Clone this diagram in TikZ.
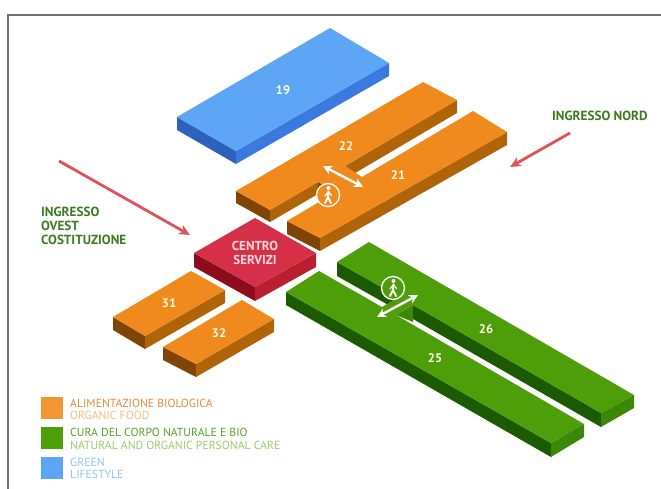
\documentclass[tikz,border=0pt]{standalone}
\usepackage{fontspec}
\setmainfont{PT Sans}
\usepackage{tikz}
\usetikzlibrary{arrows.meta, positioning}
\definecolor{orgtop}{RGB}{240,138,28}
\definecolor{orgmid}{RGB}{176,100,10}
\definecolor{orgdark}{RGB}{128,68,6}
\definecolor{grntop}{RGB}{78,158,10}
\definecolor{grnmid}{RGB}{60,136,6}
\definecolor{grndark}{RGB}{28,90,2}
\definecolor{blutop}{RGB}{92,166,245}
\definecolor{blumid}{RGB}{58,122,222}
\definecolor{bludark}{RGB}{44,98,188}
\definecolor{redtop}{RGB}{214,48,72}
\definecolor{redmid}{RGB}{184,32,48}
\definecolor{reddark}{RGB}{140,14,30}
\definecolor{entryred}{RGB}{224,82,90}
\definecolor{entrygreen}{RGB}{62,122,34}
\definecolor{legorgA}{RGB}{222,140,60}
\definecolor{legorgB}{RGB}{244,190,130}
\definecolor{leggrnA}{RGB}{92,160,44}
\definecolor{leggrnB}{RGB}{156,204,110}
\definecolor{legbluA}{RGB}{146,196,240}
\begin{document}
\begin{tikzpicture}[
  x=1pt, y=-1pt,
  num/.style={font=\fontsize{12.5}{12}\selectfont\bfseries, text=white!90!yellow, inner sep=0pt},
  entry/.style={font=\fontsize{13.2}{14}\selectfont\bfseries, text=entrygreen, align=left, inner sep=0pt},
  arr/.style={-{Stealth[length=11pt,width=10pt]}, line width=2.8pt, entryred},
  pass/.style={{Stealth[length=9pt,width=9pt]}-{Stealth[length=9pt,width=9pt]}, line width=2.4pt, white},
  ring/.style={circle, draw=white, line width=1.3pt, minimum size=23pt, inner sep=0pt},
  swatch/.style={minimum size=22pt, inner sep=0pt},
  legA/.style={font=\fontsize{11.7}{12}\selectfont, anchor=west, inner sep=0pt},
  legB/.style={font=\fontsize{11.7}{12}\selectfont, anchor=west, inner sep=0pt},
  walker/.pic={
    \fill[white] (0.5,-7) circle (2pt);
    \draw[white, line width=2pt, line cap=round] (0.5,-3.5) -- (0,2) -- (-3,8);
    \draw[white, line width=2pt, line cap=round] (0,2) -- (3,8);
    \draw[white, line width=1.2pt, line cap=round] (0.5,-3.5) -- (-3,1);
    \draw[white, line width=1.2pt, line cap=round] (0.5,-3.5) -- (3.5,0.5);
  }
]
  \useasboundingbox (0,0) rectangle (661,489);
  \fill[white] (0,0) rectangle (661,489);
  \draw[black!55, line width=1.3pt] (8,489) -- (8,15) -- (661,15);

  % block 19
  \fill[bludark] (177,117) -- (236,151) -- (236,164) -- (177,130) -- cycle;
  \fill[blumid] (236,151) -- (389,63) -- (389,76) -- (236,164) -- cycle;
  \fill[blutop] (177,117) -- (330,28) -- (389,63) -- (236,151) -- cycle;
  \node[num] (n19) at (283,90) {19};

  % blocks 22 and 21
  \fill[orgdark] (236,191) -- (270,210) -- (270,222) -- (236,203) -- cycle;
  \fill[orgmid] (270,210) -- (318,182) -- (318,194) -- (270,222) -- cycle;
  \fill[orgdark] (318,182) -- (336,192) -- (336,204) -- (318,194) -- cycle;
  \fill[orgmid] (345,166) -- (457,100) -- (457,113) -- (345,179) -- cycle;
  \fill[orgdark] (287,221) -- (320,238) -- (320,251) -- (287,234) -- cycle;
  \fill[orgmid] (320,238) -- (507,132) -- (507,145) -- (320,251) -- cycle;
  \fill[orgtop] (236,191) -- (423,82) -- (457,100) -- (345,166) -- (362,177)
    -- (473,111) -- (507,132) -- (320,238) -- (287,221) -- (336,192)
    -- (318,182) -- (270,210) -- cycle;
  \node[num] (n22) at (346,146) {22};
  \node[num] (n21) at (398,175) {21};
  \coordinate (passAa) at (323,166);
  \coordinate (passAb) at (363,187);
  \draw[pass] (passAa) -- (passAb);
  \node[ring, fill=orgtop] (walkA) at (328,195) {};
  \pic at (walkA) {walker};

  % centro servizi
  \fill[reddark] (194,253) -- (255,287) -- (255,301) -- (194,267) -- cycle;
  \fill[redmid] (255,287) -- (316,253) -- (316,267) -- (255,301) -- cycle;
  \fill[redtop] (194,253) -- (255,218) -- (316,253) -- (255,287) -- cycle;
  \node[num, align=center, font=\fontsize{13}{14}\selectfont\bfseries, text=white!85!red] (centro) at (255,253) {CENTRO\\SERVIZI};

  % blocks 31 and 32
  \fill[orgdark] (113,317) -- (145,336) -- (145,349) -- (113,330) -- cycle;
  \fill[orgmid] (145,336) -- (225,290) -- (225,303) -- (145,349) -- cycle;
  \fill[orgtop] (113,317) -- (191,271) -- (225,290) -- (145,336) -- cycle;
  \node[num] (n31) at (169,303) {31};
  \fill[orgdark] (163,347) -- (196,364) -- (196,377) -- (163,360) -- cycle;
  \fill[orgmid] (196,364) -- (274,319) -- (274,332) -- (196,377) -- cycle;
  \fill[orgtop] (163,347) -- (242,300) -- (274,319) -- (196,364) -- cycle;
  \node[num] (n32) at (219,333) {32};

  % blocks 25 and 26
  \fill[grndark] (337,262) -- (399,297) -- (399,311) -- (337,276) -- cycle;
  \fill[grndark] (413,305) -- (601,413) -- (601,427) -- (413,319) -- cycle;
  \fill[grnmid] (601,413) -- (634,395) -- (634,408) -- (601,427) -- cycle;
  \fill[grnmid] (413,305) -- (413,322) -- (396,315) -- cycle;
  \fill[grndark] (286,292) -- (551,443) -- (551,457) -- (286,305) -- cycle;
  \fill[grnmid] (551,443) -- (584,424) -- (584,437) -- (551,457) -- cycle;
  \fill[grntop] (337,262) -- (369,242) -- (634,395) -- (601,413) -- (413,305)
    -- (396,315) -- (584,424) -- (551,443) -- (286,292) -- (319,271)
    -- (382,307) -- (399,297) -- cycle;
  \node[num] (n26) at (486,329) {26};
  \node[num] (n25) at (435,358) {25};
  \coordinate (passBa) at (377,317);
  \coordinate (passBb) at (418,295);
  \draw[pass] (passBa) -- (passBb);
  \node[ring, fill=grntop] (walkB) at (393,288) {};
  \pic at (walkB) {walker};

  % entrances
  \node[entry, anchor=north west] (ovest) at (41,207) {INGRESSO\\OVEST\\COSTITUZIONE};
  \node[entry, anchor=west] (nord) at (552,116) {INGRESSO NORD};
  \coordinate (ovestfrom) at (59,161);
  \coordinate (ovestto) at (190,235);
  \coordinate (nordfrom) at (570,133);
  \coordinate (nordto) at (510,167);
  \draw[arr] (ovestfrom) -- (ovestto);
  \draw[arr] (nordfrom) -- (nordto);

  % legend
  \node[swatch, fill=orgtop!90!white] (legorg) at (52,408) {};
  \node[swatch, fill=grntop] (leggrn) at (52,438) {};
  \node[swatch, fill=blutop] (legblu) at (52,468) {};
  \node[legA, text=legorgA] (ta1) at (70,403) {ALIMENTAZIONE BIOLOGICA};
  \node[legB, text=legorgB] (ta2) at (70,415) {ORGANIC FOOD};
  \node[legA, text=leggrnA] (tb1) at (70,432) {CURA DEL CORPO NATURALE E BIO};
  \node[legB, text=leggrnB] (tb2) at (70,445) {NATURAL AND ORGANIC PERSONAL CARE};
  \node[legB, text=legbluA] (tc1) at (70,462) {GREEN};
  \node[legB, text=legbluA] (tc2) at (70,474) {LIFESTYLE};
\end{tikzpicture}
\end{document}
